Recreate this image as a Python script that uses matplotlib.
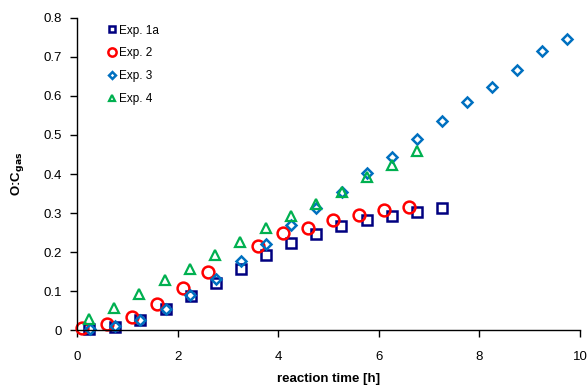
"""O:C gas ratio versus reaction time for four experiments."""

import matplotlib
matplotlib.use("Agg")
import matplotlib.pyplot as plt

plt.rcParams["font.family"] = ["Liberation Sans", "DejaVu Sans"]

# Exp. 1a (squares)
t_1a = [0.25, 0.75, 1.25, 1.77, 2.26, 2.76, 3.26, 3.76, 4.25, 4.75, 5.25,
        5.76, 6.26, 6.76, 7.26]
oc_1a = [0.003, 0.009, 0.025, 0.053, 0.088, 0.121, 0.157, 0.192, 0.224,
         0.246, 0.266, 0.281, 0.292, 0.302, 0.313]

# Exp. 2 (circles)
t_2 = [0.1, 0.6, 1.1, 1.6, 2.1, 2.6, 3.6, 4.1, 4.6, 5.1, 5.6, 6.1, 6.6]
oc_2 = [0.005, 0.015, 0.033, 0.066, 0.108, 0.149, 0.216, 0.248, 0.262,
        0.282, 0.296, 0.307, 0.316]

# Exp. 3 (diamonds)
t_3 = [0.26, 0.75, 1.25, 1.77, 2.25, 2.76, 3.26, 3.76, 4.25, 4.75, 5.27,
       5.76, 6.26, 6.76, 7.26, 7.75, 8.25, 8.75, 9.24, 9.74]
oc_3 = [0.003, 0.01, 0.025, 0.055, 0.09, 0.13, 0.177, 0.22, 0.269, 0.312,
        0.355, 0.402, 0.444, 0.49, 0.536, 0.585, 0.623, 0.667, 0.715, 0.746]

# Exp. 4 (triangles)
t_4 = [0.24, 0.74, 1.23, 1.75, 2.25, 2.74, 3.24, 3.76, 4.25, 4.75, 5.27,
       5.76, 6.26, 6.76]
oc_4 = [0.028, 0.058, 0.092, 0.128, 0.157, 0.192, 0.226, 0.262, 0.292,
        0.323, 0.355, 0.392, 0.423, 0.46]

fig = plt.figure(figsize=(5.87, 3.88), dpi=100)
ax = fig.add_axes([0.131, 0.149, 0.857, 0.805])

ax.plot(t_1a, oc_1a, ls="none", marker="s", ms=6.5, mfc="none", mec="#000080",
        mew=1.8, label="Exp. 1a", clip_on=False)
ax.plot(t_2, oc_2, ls="none", marker="o", ms=8.5, mfc="none", mec="#FF0000",
        mew=1.8, label="Exp. 2", clip_on=False)
ax.plot(t_3, oc_3, ls="none", marker="D", ms=5, mfc="none", mec="#0070C0",
        mew=1.8, label="Exp. 3", clip_on=False)
ax.plot(t_4, oc_4, ls="none", marker="^", ms=6.5, mfc="none", mec="#00B050",
        mew=1.6, label="Exp. 4", clip_on=False)

ax.set_xlim(0, 10)
ax.set_ylim(0, 0.8)
ax.set_xticks([0, 2, 4, 6, 8, 10])
ax.set_yticks([0, 0.1, 0.2, 0.3, 0.4, 0.5, 0.6, 0.7, 0.8])
ax.set_yticklabels(["0", "0.1", "0.2", "0.3", "0.4", "0.5", "0.6", "0.7", "0.8"])
ax.tick_params(direction="out", length=5, width=1, labelsize=9.5)
ax.tick_params(axis="x", pad=10)
ax.tick_params(axis="y", pad=6)
for side in ("top", "right"):
    ax.spines[side].set_visible(False)
for side in ("left", "bottom"):
    ax.spines[side].set_linewidth(1)

ax.set_xlabel("reaction time [h]", fontsize=9.5, fontweight="bold", labelpad=7)
ax.set_ylabel(r"O:C$_{\mathbf{gas}}$", fontsize=9.5, fontweight="bold",
              labelpad=12)

ax.legend(loc="upper left", bbox_to_anchor=(0.04, 1.005), frameon=False,
          fontsize=8.5, handletextpad=0.0, handlelength=1.2, labelspacing=0.92,
          markerscale=0.7, borderaxespad=0.3)

fig.savefig("out.png", dpi=100)
